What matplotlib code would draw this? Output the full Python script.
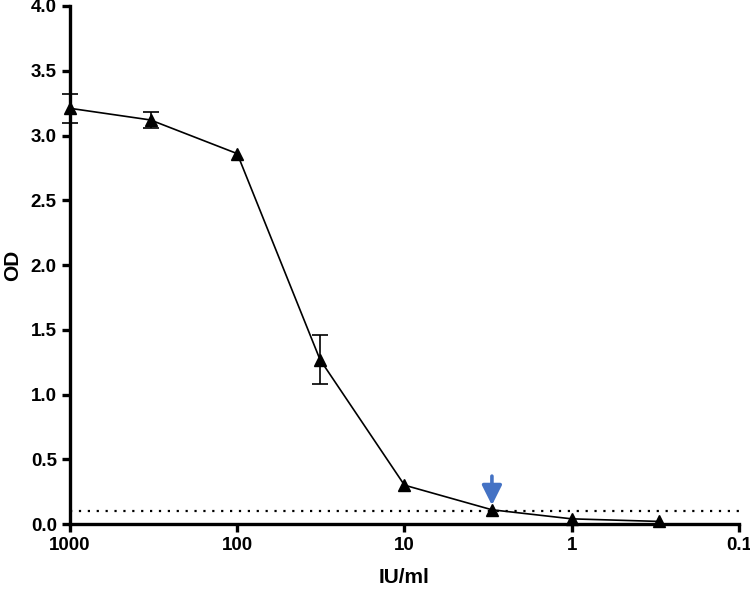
import matplotlib
matplotlib.use("Agg")
import matplotlib.pyplot as plt
import numpy as np

plt.rcParams['font.family'] = ['Liberation Sans', 'DejaVu Sans']

# concentration (IU/ml) and OD readings
conc = [1000, 330, 100, 32, 10, 3, 1, 0.3]
od = [3.21, 3.12, 2.86, 1.27, 0.30, 0.11, 0.04, 0.02]
od_err = [0.11, 0.06, np.nan, 0.19, np.nan, np.nan, np.nan, np.nan]
cutoff = 0.1
arrow_x = 3
x_ticks = [1000, 100, 10, 1, 0.1]
x_ticklabels = ["1000", "100", "10", "1", "0.1"]
y_ticks = [0.0, 0.5, 1.0, 1.5, 2.0, 2.5, 3.0, 3.5, 4.0]

fig = plt.figure(figsize=(7.5, 5.94), dpi=100)
ax = fig.add_axes([0.0933, 0.1178, 0.8920, 0.8721])

ax.errorbar(conc, od, yerr=od_err, color="black", lw=1.2, marker="^",
            ms=9, capsize=6, elinewidth=1.2, capthick=1.2, clip_on=False, zorder=3)
ax.axhline(cutoff, color="black", ls=(0, (1, 3)), lw=1.6, zorder=2)
ax.annotate("", xy=(arrow_x, od[5] + 0.035), xytext=(arrow_x, 0.37),
            arrowprops=dict(arrowstyle="-|>,head_width=0.6,head_length=1.2",
                            color="#4472C4", lw=2.6, shrinkA=0, shrinkB=0))

ax.set_xscale("log")
ax.set_xlim(1000, 0.1)
ax.set_ylim(0, 4.0)
ax.set_xticks(x_ticks)
ax.set_xticklabels(x_ticklabels)
ax.xaxis.set_minor_locator(matplotlib.ticker.NullLocator())
ax.set_yticks(y_ticks)
ax.set_yticklabels([f"{v:.1f}" for v in y_ticks])

for s in ["top", "right"]:
    ax.spines[s].set_visible(False)
for s in ["left", "bottom"]:
    ax.spines[s].set_linewidth(2.4)
ax.tick_params(width=2.4, length=6, labelsize=13.5, direction="out")
for lab in ax.get_xticklabels() + ax.get_yticklabels():
    lab.set_fontweight("bold")

ax.set_xlabel("IU/ml", fontsize=15, fontweight="bold", labelpad=10)
ax.set_ylabel("OD", fontsize=15, fontweight="bold", labelpad=6)

fig.savefig("out.png", dpi=100)
